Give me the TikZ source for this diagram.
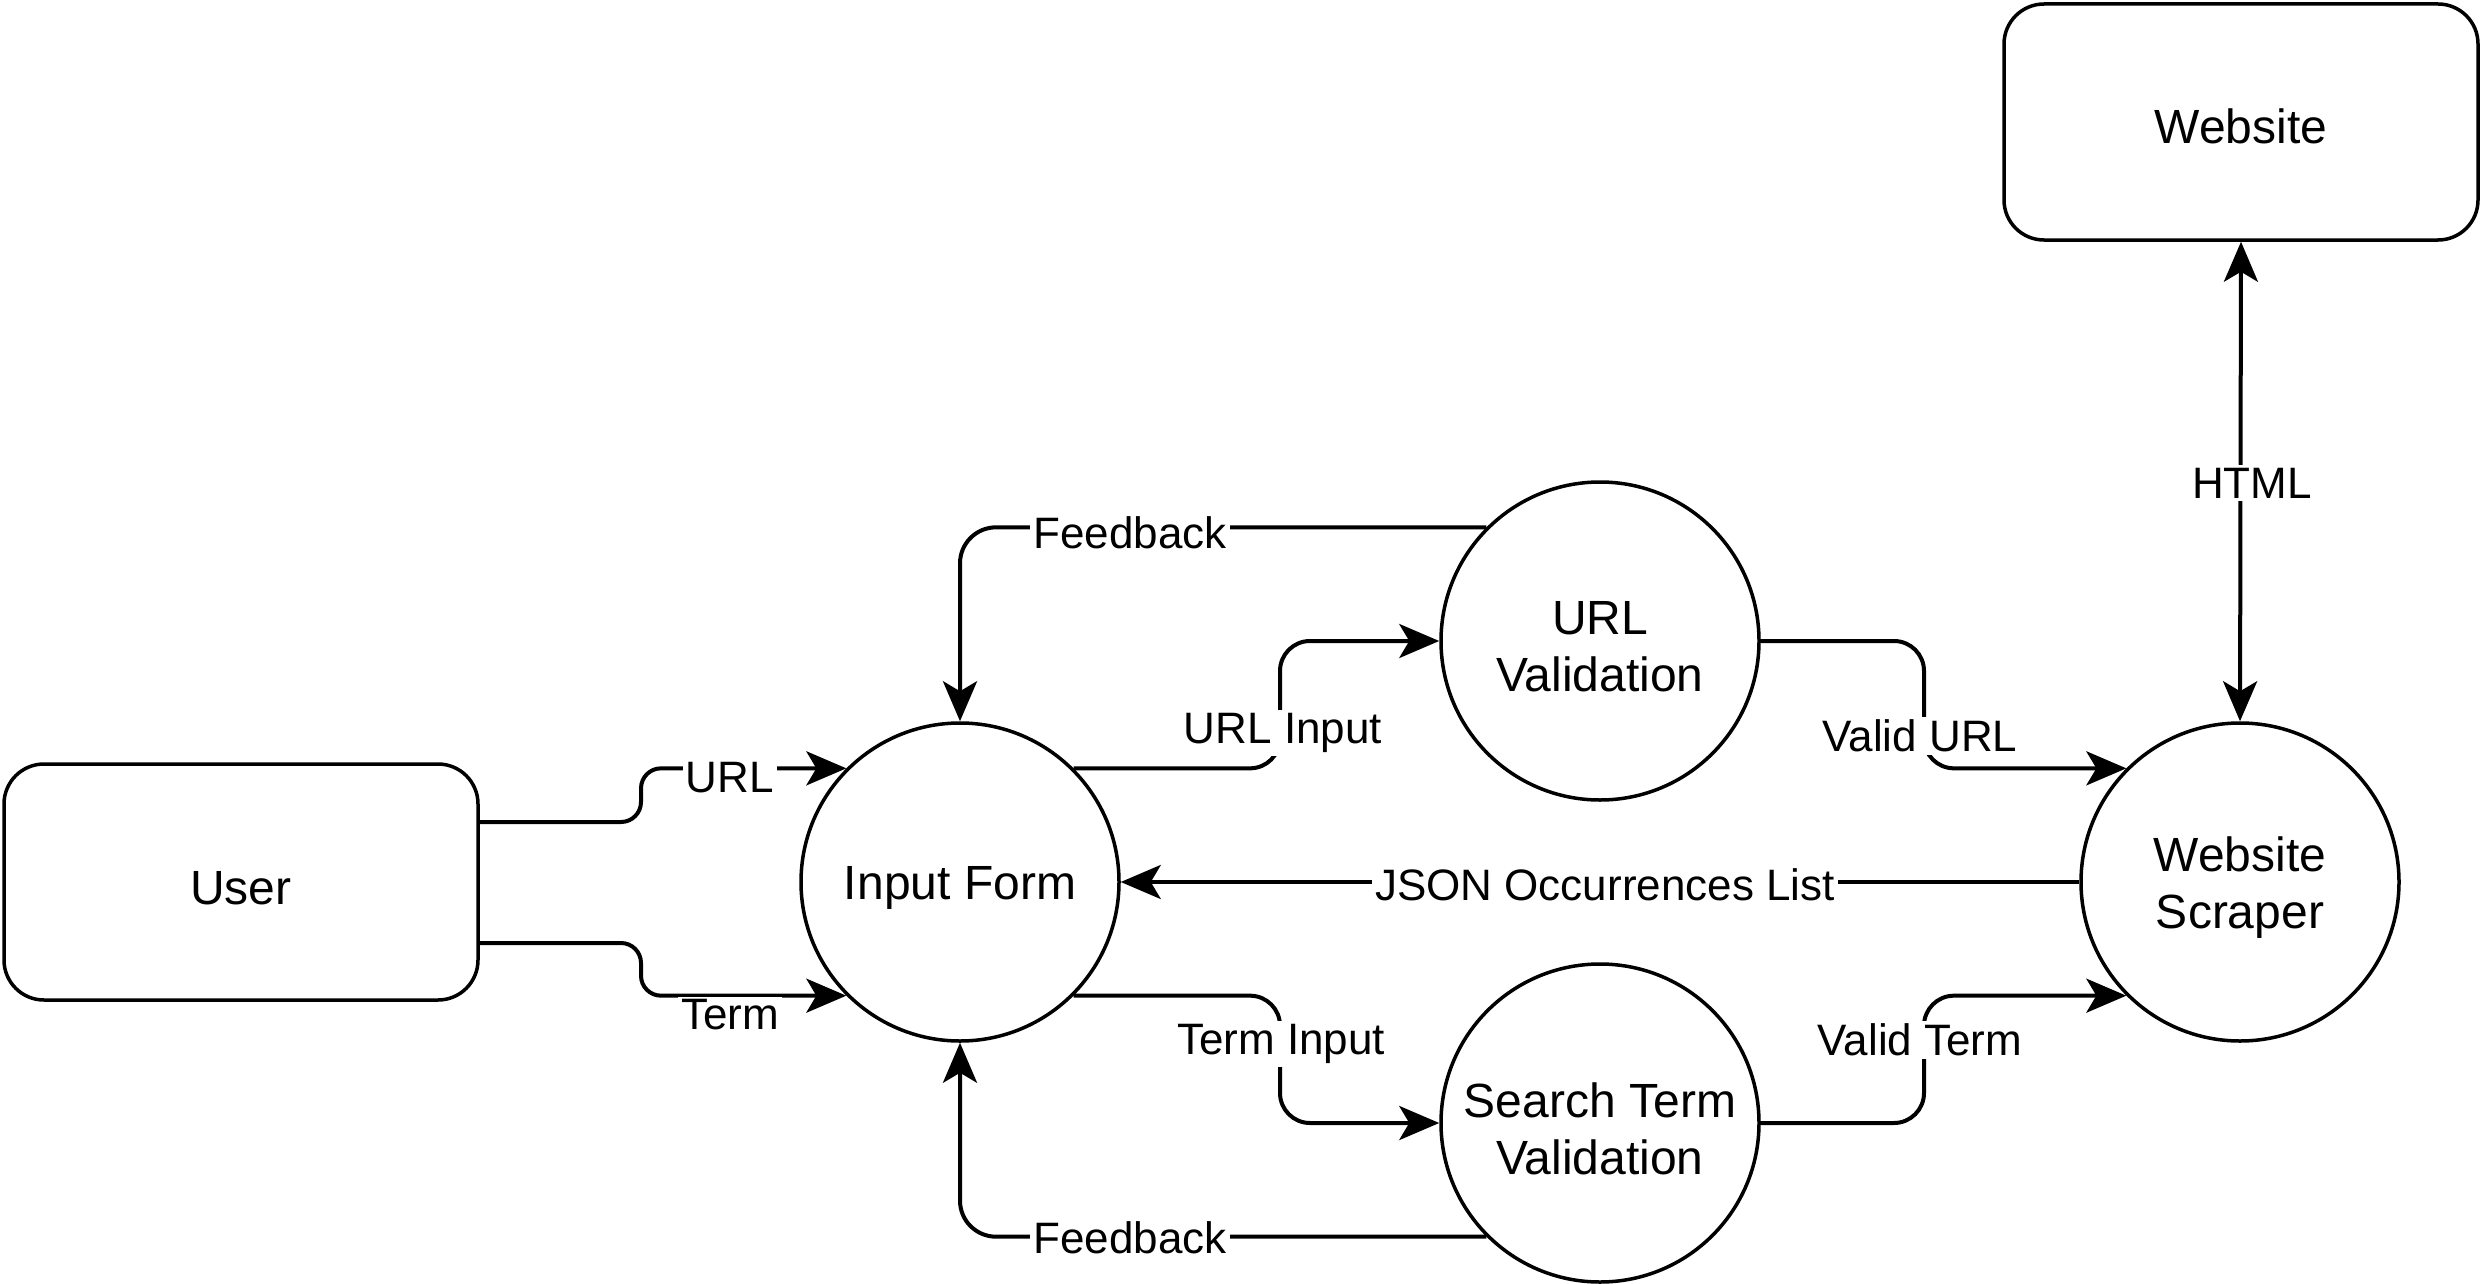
\documentclass[tikz,border=0pt]{standalone}
\usepackage{fontspec}
\setmainfont{Liberation Sans}
\usetikzlibrary{arrows.meta}
\newcommand\myNodeFont{\fontsize{48}{57}\selectfont}
\newcommand\myLblFont{\fontsize{44}{52}\selectfont}
\begin{document}
\begin{tikzpicture}[x=1pt,y=-1pt,
  proc/.style={circle, draw, line width=3.5pt, minimum size=318pt, inner sep=0pt},
  ext/.style={rectangle, draw, rounded corners=40pt, line width=3.5pt, minimum width=474pt, minimum height=236pt},
  txt/.style={align=center, inner sep=0pt, font=\myNodeFont},
  flow/.style={line width=4pt, -{Stealth[length=40pt,width=34pt,inset=10pt]}},
  both/.style={line width=4pt, {Stealth[length=40pt,width=34pt,inset=10pt]}-{Stealth[length=40pt,width=34pt,inset=10pt]}},
  lbl/.style={fill=white, inner sep=3pt, font=\myLblFont}
]
\useasboundingbox (0,0) rectangle (2484,1284);
\node[ext] (user) at (241,882) {};
\node[proc] (inp) at (960,882) {};
\node[proc] (urlv) at (1600,641) {};
\node[proc] (stv) at (1600,1123) {};
\node[proc] (scr) at (2240,882) {};
\node[ext] (web) at (2241,122) {};
\node[txt] (userT) at ([yshift=-6pt]user.center) {User};
\node[txt] (inpT) at ([yshift=-6pt]inp.center) {Input Form};
\node[txt] (urlvT) at ([yshift=-6pt]urlv.center) {URL\\Validation};
\node[txt] (stvT) at ([yshift=-6pt]stv.center) {Search Term\\Validation};
\node[txt] (scrT) at ([yshift=-6pt]scr.center) {Website\\Scraper};
\node[txt] (webT) at ([yshift=-4pt]web.center) {Website};

\coordinate (uA) at ([yshift=60pt]user.east);
\coordinate (uB) at ([yshift=-61pt]user.east);
\coordinate (jx1) at (641,0);
\coordinate (jx2) at (1280,0);
\coordinate (jx3) at (1924,0);

\draw[flow, rounded corners=20pt] (uA) -- (uA -| jx1) -- (jx1 |- inp.135) -- (inp.135);
\draw[flow, rounded corners=20pt] (uB) -- (uB -| jx1) -- (jx1 |- inp.225) -- (inp.225);
\draw[flow, rounded corners=30pt] (inp.45) -- (inp.45 -| jx2) -- (jx2 |- urlv.west) -- (urlv.west);
\draw[flow, rounded corners=30pt] (inp.-45) -- (inp.-45 -| jx2) -- (jx2 |- stv.west) -- (stv.west);
\draw[flow, rounded corners=36pt] (urlv.135) -- (urlv.135 -| inp.north) -- (inp.north);
\draw[flow, rounded corners=36pt] (stv.225) -- (stv.225 -| inp.south) -- (inp.south);
\draw[flow, rounded corners=30pt] (urlv.east) -- (urlv.east -| jx3) -- (jx3 |- scr.135) -- (scr.135);
\draw[flow, rounded corners=30pt] (stv.east) -- (stv.east -| jx3) -- (jx3 |- scr.225) -- (scr.225);
\draw[flow] (scr.west) -- (inp.east);
\draw[both] (web.south) -- (scr.north);

\node[lbl] (l1) at (730,778) {URL};
\node[lbl] (l2) at (730,1015) {Term};
\node[lbl] (l3) at (1283,733) {URL Input};
\node[lbl] (l4) at (1281,1044) {Term Input};
\node[lbl] (l5) at (1130,533) {Feedback};
\node[lbl] (l6) at (1130,1238) {Feedback};
\node[lbl] (l7) at (1920,736) {Valid URL};
\node[lbl] (l8) at (1920,1040) {Valid Term};
\node[lbl] (l9) at (1605,885) {JSON Occurrences List};
\node[lbl] (l10) at (2252,483) {HTML};
\end{tikzpicture}
\end{document}
